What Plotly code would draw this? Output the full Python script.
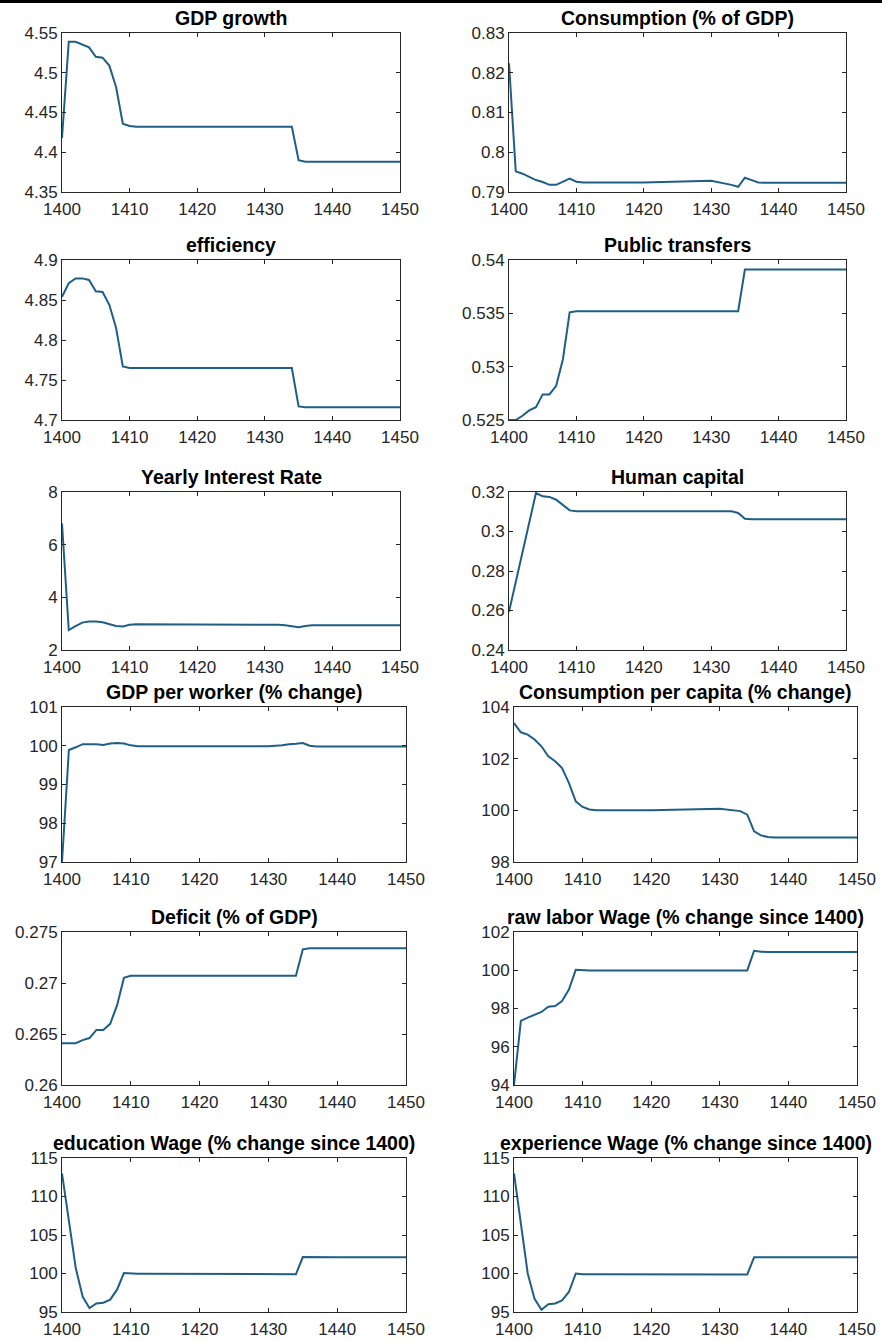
import plotly.graph_objects as go

years = [1400, 1401, 1402, 1403, 1404, 1405, 1406, 1407, 1408, 1409, 1410, 1411, 1412,
         1420, 1430, 1432, 1433, 1434, 1435, 1436, 1437, 1438, 1440, 1450]

gdp_growth = [4.418, 4.539, 4.539, 4.535, 4.532, 4.520, 4.519, 4.509, 4.482, 4.436, 4.433, 4.432, 4.432,
              4.432, 4.432, 4.432, 4.432, 4.432, 4.390, 4.388, 4.388, 4.388, 4.388, 4.388]
consumption_gdp = [0.8224, 0.7952, 0.7946, 0.7938, 0.7930, 0.7925, 0.7918, 0.7918, 0.7926, 0.7934, 0.7926, 0.7924, 0.7924,
                   0.7924, 0.7928, 0.7922, 0.7918, 0.7913, 0.7936, 0.7930, 0.7924, 0.7923, 0.7923, 0.7923]
efficiency = [4.854, 4.871, 4.877, 4.877, 4.875, 4.861, 4.860, 4.844, 4.815, 4.767, 4.765, 4.765, 4.765,
              4.765, 4.765, 4.765, 4.765, 4.765, 4.717, 4.716, 4.716, 4.716, 4.716, 4.716]
public_transfers = [0.5250, 0.5250, 0.5254, 0.5259, 0.5262, 0.5274, 0.5274, 0.5282, 0.5307, 0.5351, 0.5352, 0.5352, 0.5352,
                    0.5352, 0.5352, 0.5352, 0.5352, 0.5352, 0.5391, 0.5391, 0.5391, 0.5391, 0.5391, 0.5391]
interest_rate = [6.8, 2.76, 2.91, 3.04, 3.08, 3.08, 3.05, 2.99, 2.91, 2.89, 2.96, 2.98, 2.98,
                 2.98, 2.98, 2.96, 2.94, 2.89, 2.86, 2.91, 2.94, 2.94, 2.94, 2.94]
human_capital = [0.2594, 0.2745, 0.2897, 0.3048, 0.3195, 0.3178, 0.3175, 0.3161, 0.3133, 0.3107, 0.3102, 0.3102, 0.3102,
                 0.3102, 0.3102, 0.3102, 0.3102, 0.3094, 0.3065, 0.3062, 0.3062, 0.3062, 0.3062, 0.3062]
gdp_worker = [97.0, 99.89, 99.96, 100.04, 100.04, 100.04, 100.02, 100.06, 100.07, 100.06, 100.01, 99.99, 99.99,
              99.99, 99.99, 100.01, 100.04, 100.05, 100.07, 100.00, 99.98, 99.98, 99.98, 99.98]
cons_capita = [103.38, 103.02, 102.93, 102.74, 102.48, 102.09, 101.90, 101.64, 101.06, 100.35, 100.13, 100.03, 100.00,
               100.00, 100.06, 99.99, 99.97, 99.83, 99.19, 99.03, 98.97, 98.95, 98.95, 98.95]
deficit = [0.2641, 0.2641, 0.2641, 0.2644, 0.2646, 0.2654, 0.2654, 0.2660, 0.2678, 0.2705, 0.2707, 0.2707, 0.2707,
           0.2707, 0.2707, 0.2707, 0.2707, 0.2707, 0.2733, 0.2734, 0.2734, 0.2734, 0.2734, 0.2734]
raw_wage = [94.0, 97.35, 97.52, 97.65, 97.82, 98.09, 98.13, 98.39, 98.99, 100.02, 99.99, 99.99, 99.99,
            99.99, 99.99, 99.99, 99.99, 99.99, 101.02, 100.97, 100.96, 100.95, 100.95, 100.95]
edu_wage = [113.0, 107.0, 100.7, 97.0, 95.5, 96.1, 96.2, 96.6, 97.9, 100.06, 99.98, 99.98, 99.98,
            99.98, 99.98, 99.95, 99.93, 99.90, 102.14, 102.12, 102.1, 102.1, 102.1, 102.1]
exp_wage = [113.0, 106.5, 100.0, 96.7, 95.3, 96.0, 96.1, 96.5, 97.6, 100.0, 99.9, 99.9, 99.9,
            99.9, 99.9, 99.88, 99.87, 99.87, 102.1, 102.1, 102.1, 102.1, 102.1, 102.1]

titles = ["GDP growth", "Consumption (% of GDP)", "efficiency", "Public transfers",
          "Yearly Interest Rate", "Human capital", "GDP per worker (% change)",
          "Consumption per capita (% change)", "Deficit (% of GDP)",
          "raw labor Wage (% change since 1400)", "education Wage (% change since 1400)",
          "experience Wage (% change since 1400)"]

x_ticks = [1400, 1410, 1420, 1430, 1440, 1450]
x_ticktext = ["1400", "1410", "1420", "1430", "1440", "1450"]

y_ticks = [
    [4.35, 4.4, 4.45, 4.5, 4.55],
    [0.79, 0.8, 0.81, 0.82, 0.83],
    [4.7, 4.75, 4.8, 4.85, 4.9],
    [0.525, 0.53, 0.535, 0.54],
    [2, 4, 6, 8],
    [0.24, 0.26, 0.28, 0.3, 0.32],
    [97, 98, 99, 100, 101],
    [98, 100, 102, 104],
    [0.26, 0.265, 0.27, 0.275],
    [94, 96, 98, 100, 102],
    [95, 100, 105, 110, 115],
    [95, 100, 105, 110, 115],
]
y_ticktext = [
    ["4.35", "4.4", "4.45", "4.5", "4.55"],
    ["0.79", "0.8", "0.81", "0.82", "0.83"],
    ["4.7", "4.75", "4.8", "4.85", "4.9"],
    ["0.525", "0.53", "0.535", "0.54"],
    ["2", "4", "6", "8"],
    ["0.24", "0.26", "0.28", "0.3", "0.32"],
    ["97", "98", "99", "100", "101"],
    ["98", "100", "102", "104"],
    ["0.26", "0.265", "0.27", "0.275"],
    ["94", "96", "98", "100", "102"],
    ["95", "100", "105", "110", "115"],
    ["95", "100", "105", "110", "115"],
]

series = [gdp_growth, consumption_gdp, efficiency, public_transfers, interest_rate, human_capital,
          gdp_worker, cons_capita, deficit, raw_wage, edu_wage, exp_wage]

W, H = 882, 1341
rows_px = [(33, 192), (260, 420), (492, 650), (707, 862), (932, 1085), (1158, 1312)]
left_px = [(62, 400), (62, 400), (62, 400), (62, 406), (62, 406), (62, 406)]
right_px = [(509, 846), (509, 846), (509, 846), (514, 857), (514, 857), (514, 857)]

FONT = "Liberation Sans, Arial, Helvetica, sans-serif"
fig = go.Figure()
layout = dict(
    width=W, height=H,
    margin=dict(l=0, r=0, t=0, b=0, autoexpand=False),
    paper_bgcolor="white", plot_bgcolor="white",
    showlegend=False,
    font=dict(family=FONT, size=17, color="#262626"),
    annotations=[],
    shapes=[dict(type="rect", xref="paper", yref="paper", x0=0, x1=1,
                 y0=1 - 3 / H, y1=1, fillcolor="black", line=dict(width=0))],
)

LINE_COLOR = "#1f5f86"

for i, ys in enumerate(series):
    r, c = divmod(i, 2)
    top, bot = rows_px[r]
    lx, rx = (left_px if c == 0 else right_px)[r]
    n = i + 1
    xa = "x" if n == 1 else f"x{n}"
    ya = "y" if n == 1 else f"y{n}"
    fig.add_trace(go.Scatter(x=years, y=ys, mode="lines", xaxis=xa, yaxis=ya,
                             line=dict(color=LINE_COLOR, width=2), hoverinfo="skip"))
    common = dict(showline=True, linecolor="#262626", linewidth=1, mirror="ticks",
                  ticks="inside", ticklen=4, tickcolor="#262626", tickwidth=1,
                  showgrid=False, zeroline=False, automargin=False,
                  tickfont=dict(size=17, color="#262626", family=FONT))
    layout[f"xaxis{n}"] = dict(domain=[lx / W, rx / W], anchor=ya, range=[1400, 1450],
                               tickmode="array", tickvals=x_ticks, ticktext=x_ticktext,
                               ticklabelstandoff=2, **common)
    layout[f"yaxis{n}"] = dict(domain=[1 - bot / H, 1 - top / H], anchor=xa,
                               range=[y_ticks[i][0], y_ticks[i][-1]],
                               tickmode="array", tickvals=y_ticks[i], ticktext=y_ticktext[i],
                               ticklabelstandoff=0, **common)
    layout["annotations"].append(dict(
        text=f"<b>{titles[i]}</b>", xref="paper", yref="paper",
        x=(lx + rx) / 2 / W, y=1 - (top - 15) / H, xanchor="center", yanchor="middle",
        showarrow=False, font=dict(size=19.5, color="black", family=FONT)))

fig.update_layout(**layout)
fig.write_html("out.html", config={"displayModeBar": False},
               post_script="document.body.style.margin='0px';document.body.style.overflow='hidden';")
